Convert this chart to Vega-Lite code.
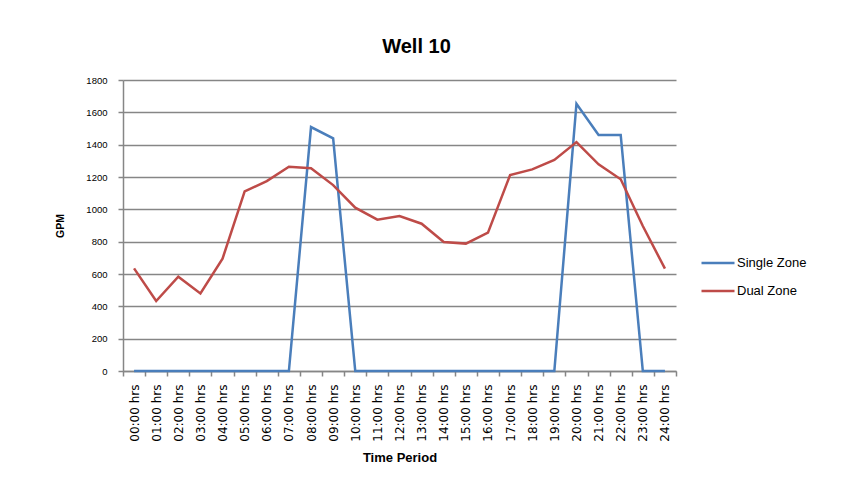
{
  "$schema": "https://vega.github.io/schema/vega-lite/v6.json",
  "autosize": {"type": "none"},
  "width": 553,
  "height": 291,
  "padding": {"left": 123, "top": 80, "right": 171, "bottom": 120},
  "background": "#ffffff",
  "title": {
    "text": "Well 10",
    "font": "Liberation Sans",
    "fontSize": 20,
    "fontWeight": "bold",
    "color": "#000000",
    "anchor": "middle",
    "dx": 17,
    "offset": 18
  },
  "data": {
    "values": [
      {"time": "00:00 hrs", "series": "Single Zone", "gpm": 0},
      {"time": "01:00 hrs", "series": "Single Zone", "gpm": 0},
      {"time": "02:00 hrs", "series": "Single Zone", "gpm": 0},
      {"time": "03:00 hrs", "series": "Single Zone", "gpm": 0},
      {"time": "04:00 hrs", "series": "Single Zone", "gpm": 0},
      {"time": "05:00 hrs", "series": "Single Zone", "gpm": 0},
      {"time": "06:00 hrs", "series": "Single Zone", "gpm": 0},
      {"time": "07:00 hrs", "series": "Single Zone", "gpm": 0},
      {"time": "08:00 hrs", "series": "Single Zone", "gpm": 1509},
      {"time": "09:00 hrs", "series": "Single Zone", "gpm": 1439},
      {"time": "10:00 hrs", "series": "Single Zone", "gpm": 0},
      {"time": "11:00 hrs", "series": "Single Zone", "gpm": 0},
      {"time": "12:00 hrs", "series": "Single Zone", "gpm": 0},
      {"time": "13:00 hrs", "series": "Single Zone", "gpm": 0},
      {"time": "14:00 hrs", "series": "Single Zone", "gpm": 0},
      {"time": "15:00 hrs", "series": "Single Zone", "gpm": 0},
      {"time": "16:00 hrs", "series": "Single Zone", "gpm": 0},
      {"time": "17:00 hrs", "series": "Single Zone", "gpm": 0},
      {"time": "18:00 hrs", "series": "Single Zone", "gpm": 0},
      {"time": "19:00 hrs", "series": "Single Zone", "gpm": 0},
      {"time": "20:00 hrs", "series": "Single Zone", "gpm": 1653},
      {"time": "21:00 hrs", "series": "Single Zone", "gpm": 1460},
      {"time": "22:00 hrs", "series": "Single Zone", "gpm": 1460},
      {"time": "23:00 hrs", "series": "Single Zone", "gpm": 0},
      {"time": "24:00 hrs", "series": "Single Zone", "gpm": 0},
      {"time": "00:00 hrs", "series": "Dual Zone", "gpm": 635},
      {"time": "01:00 hrs", "series": "Dual Zone", "gpm": 433},
      {"time": "02:00 hrs", "series": "Dual Zone", "gpm": 583},
      {"time": "03:00 hrs", "series": "Dual Zone", "gpm": 480},
      {"time": "04:00 hrs", "series": "Dual Zone", "gpm": 695},
      {"time": "05:00 hrs", "series": "Dual Zone", "gpm": 1111},
      {"time": "06:00 hrs", "series": "Dual Zone", "gpm": 1175},
      {"time": "07:00 hrs", "series": "Dual Zone", "gpm": 1264},
      {"time": "08:00 hrs", "series": "Dual Zone", "gpm": 1254},
      {"time": "09:00 hrs", "series": "Dual Zone", "gpm": 1150},
      {"time": "10:00 hrs", "series": "Dual Zone", "gpm": 1010},
      {"time": "11:00 hrs", "series": "Dual Zone", "gpm": 936},
      {"time": "12:00 hrs", "series": "Dual Zone", "gpm": 959},
      {"time": "13:00 hrs", "series": "Dual Zone", "gpm": 911},
      {"time": "14:00 hrs", "series": "Dual Zone", "gpm": 798},
      {"time": "15:00 hrs", "series": "Dual Zone", "gpm": 788},
      {"time": "16:00 hrs", "series": "Dual Zone", "gpm": 856},
      {"time": "17:00 hrs", "series": "Dual Zone", "gpm": 1212},
      {"time": "18:00 hrs", "series": "Dual Zone", "gpm": 1247},
      {"time": "19:00 hrs", "series": "Dual Zone", "gpm": 1305},
      {"time": "20:00 hrs", "series": "Dual Zone", "gpm": 1416},
      {"time": "21:00 hrs", "series": "Dual Zone", "gpm": 1278},
      {"time": "22:00 hrs", "series": "Dual Zone", "gpm": 1186},
      {"time": "23:00 hrs", "series": "Dual Zone", "gpm": 897},
      {"time": "24:00 hrs", "series": "Dual Zone", "gpm": 633}
    ]
  },
  "mark": {"type": "line", "strokeWidth": 2.5, "strokeJoin": "miter"},
  "encoding": {
    "x": {
      "field": "time",
      "type": "ordinal",
      "sort": null,
      "scale": {"paddingInner": 0, "paddingOuter": 0},
      "axis": {
        "title": "Time Period",
        "titleFont": "Liberation Sans",
        "titleFontSize": 13,
        "titleFontWeight": "bold",
        "titleColor": "#000000",
        "titlePadding": 10,
        "labelFont": "DejaVu Sans",
        "labelFontSize": 12,
        "labelColor": "#000000",
        "labelAngle": 270,
        "labelPadding": 8,
        "tickBand": "extent",
        "tickSize": 5,
        "tickColor": "#868686",
        "tickWidth": 1.5,
        "domainColor": "#868686",
        "domainWidth": 1.5,
        "grid": false
      }
    },
    "y": {
      "field": "gpm",
      "type": "quantitative",
      "scale": {"domain": [0, 1800], "nice": false},
      "axis": {
        "title": "GPM",
        "titleFont": "Liberation Sans",
        "titleFontSize": 10.5,
        "titleFontWeight": "bold",
        "titleColor": "#000000",
        "titlePadding": 20,
        "values": [0, 200, 400, 600, 800, 1000, 1200, 1400, 1600, 1800],
        "format": "d",
        "labelFont": "Liberation Sans",
        "labelFontSize": 9.5,
        "labelColor": "#000000",
        "labelPadding": 11,
        "tickSize": 5,
        "tickColor": "#868686",
        "tickWidth": 1.5,
        "domainColor": "#868686",
        "domainWidth": 1.5,
        "grid": true,
        "gridColor": "#868686",
        "gridWidth": 1.5
      }
    },
    "color": {
      "field": "series",
      "type": "nominal",
      "sort": ["Single Zone", "Dual Zone"],
      "scale": {"domain": ["Single Zone", "Dual Zone"], "range": ["#4a7ebb", "#be4b48"]},
      "legend": {
        "title": null,
        "orient": "none",
        "legendX": 577,
        "legendY": 165,
        "padding": 0,
        "symbolType": "stroke",
        "symbolSize": 1089,
        "symbolStrokeWidth": 2.5,
        "labelFont": "Liberation Sans",
        "labelFontSize": 13,
        "labelColor": "#000000",
        "labelOffset": 1,
        "rowPadding": 3
      }
    }
  },
  "config": {
    "view": {"stroke": null}
  }
}
